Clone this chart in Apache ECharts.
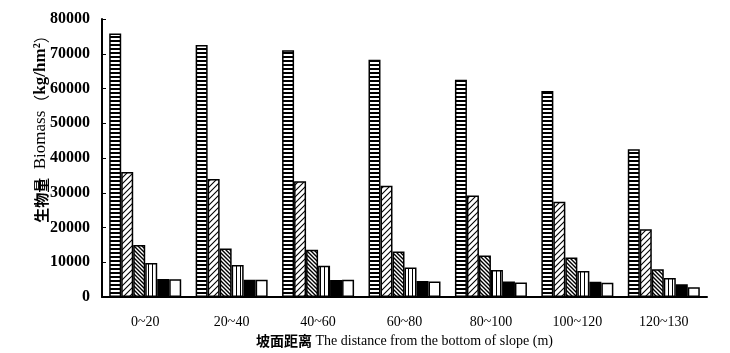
<!DOCTYPE html>
<html>
<head>
<meta charset="utf-8">
<script src="https://cdn.jsdelivr.net/npm/echarts@6/dist/echarts.min.js"></script>
<style>
  html, body { margin: 0; padding: 0; background: #fff; }
  #chart { width: 730px; height: 353px; }
</style>
</head>
<body>
<div id="chart"></div>
<script>
var categories = ['0~20', '20~40', '40~60', '60~80', '80~100', '100~120', '120~130'];
var s1 = [75800, 72500, 71000, 68300, 62500, 59300, 42500];
var s2 = [36000, 34000, 33300, 32000, 29200, 27400, 19500];
var s3 = [15000, 14000, 13600, 13100, 12000, 11400, 8000];
var s4 = [9800, 9200, 9000, 8500, 7800, 7500, 5500];
var s5 = [5200, 5000, 4900, 4600, 4500, 4400, 3700];
var s6 = [5100, 5000, 5000, 4500, 4200, 4100, 2800];
var yTicks = [0, 10000, 20000, 30000, 40000, 50000, 60000, 70000, 80000];

function pattern(w, h, draw) {
	var c = document.createElement('canvas');
	c.width = w;
	c.height = h;
	var ctx = c.getContext('2d');
	ctx.fillStyle = '#fff';
	ctx.fillRect(0, 0, w, h);
	ctx.strokeStyle = '#000';
	ctx.fillStyle = '#000';
	draw(ctx);
	return { image: c, repeat: 'repeat' };
}

// horizontal stripes
var pHoriz = pattern(4, 4, function (ctx) {
	ctx.fillRect(0, 0, 4, 2);
});
// sparse "////"
var pSlash = pattern(6, 6, function (ctx) {
	ctx.lineWidth = 1.1;
	ctx.beginPath();
	ctx.moveTo(-1, 1); ctx.lineTo(1, -1);
	ctx.moveTo(0, 6); ctx.lineTo(6, 0);
	ctx.moveTo(5, 7); ctx.lineTo(7, 5);
	ctx.stroke();
});
// dense "\\\\"
var pBack = pattern(4, 4, function (ctx) {
	ctx.lineWidth = 1.4;
	ctx.beginPath();
	ctx.moveTo(0, 0); ctx.lineTo(4, 4);
	ctx.moveTo(-1, 3); ctx.lineTo(1, 5);
	ctx.moveTo(3, -1); ctx.lineTo(5, 1);
	ctx.stroke();
});
// vertical stripes
var pVert = pattern(4, 4, function (ctx) {
	ctx.fillRect(0, 0, 1, 4);
});

var fills = [pHoriz, pSlash, pBack, pVert, '#000', '#fff'];
var data = [s1, s2, s3, s4, s5, s6];

// y title pieces, all on one line height so they line up
var titleRich = {
	b: { fontFamily: 'Noto Sans CJK SC', fontWeight: 'bold', fontSize: 15, lineHeight: 20, verticalAlign: 'middle', fill: '#000' },
	t: { fontFamily: 'Liberation Serif', fontSize: 17, lineHeight: 20, verticalAlign: 'middle', fill: '#000' },
	p: { fontFamily: 'Noto Sans CJK SC', fontSize: 16, lineHeight: 20, verticalAlign: 'middle', fill: '#000' },
	k: { fontFamily: 'Liberation Serif', fontWeight: 'bold', fontSize: 17, lineHeight: 20, verticalAlign: 'middle', fill: '#000' }
};

var myChart = echarts.init(document.getElementById('chart'));
var option = {
	backgroundColor: '#fff',
	animation: false,
	grid: {
		left: 102,
		right: 23,
		top: 19,
		bottom: 48
	},
	xAxis: {
		type: 'category',
		data: categories,
		name: '{b|坡面距离} The distance from the bottom of slope (m)',
		nameLocation: 'middle',
		nameGap: 30,
		nameTextStyle: {
			fontFamily: 'Liberation Serif',
			fontSize: 14,
			color: '#000',
			rich: {
				b: {
					fontFamily: 'Noto Sans CJK SC',
					fontWeight: 'bold',
					fontSize: 14,
					color: '#000'
				}
			}
		},
		axisLine: { lineStyle: { color: '#000', width: 2 } },
		axisTick: { inside: true, length: 4, lineStyle: { color: '#000' } },
		axisLabel: {
			margin: 18,
			color: '#000',
			fontFamily: 'Liberation Serif',
			fontSize: 14
		}
	},
	yAxis: {
		type: 'value',
		min: 0,
		max: 80000,
		interval: 10000,
		axisLine: { show: true, lineStyle: { color: '#000', width: 2 } },
		axisTick: { show: true, inside: true, length: 4, lineStyle: { color: '#000' } },
		splitLine: { show: false },
		axisLabel: {
			margin: 12,
			color: '#000',
			fontFamily: 'Liberation Serif',
			fontWeight: 'bold',
			fontSize: 16,
			formatter: function (v) { return yTicks.indexOf(v) >= 0 ? String(v) : ''; }
		}
	},
	graphic: [{
		type: 'text',
		x: 41,
		y: 125,
		rotation: Math.PI / 2,
		style: {
			text: '{b|生物量}{t|  Biomass}{p|（}{k|kg/hm²}{p|）}',
			align: 'center',
			verticalAlign: 'middle',
			rich: titleRich
		}
	}],
	series: data.map(function (d, i) {
		return {
			type: 'bar',
			data: d,
			barWidth: 12,
			barGap: '0%',
			itemStyle: {
				color: fills[i],
				borderColor: '#000',
				borderWidth: 1.5
			}
		};
	})
};
myChart.setOption(option);
</script>
</body>
</html>
